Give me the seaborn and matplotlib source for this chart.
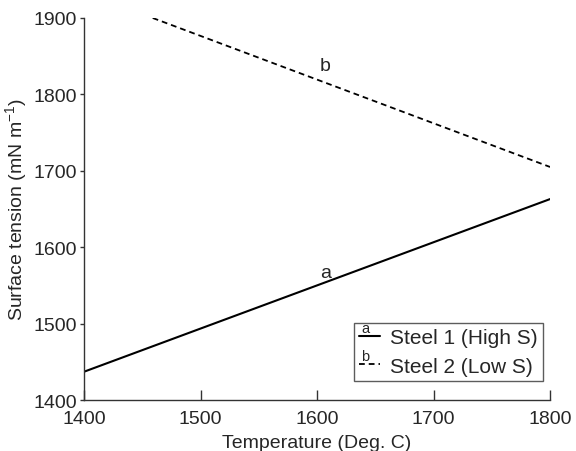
import matplotlib
matplotlib.use("Agg")
import matplotlib.pyplot as plt
from matplotlib.legend_handler import HandlerLine2D
from matplotlib.text import Text
import seaborn as sns
import pandas as pd

# values
temp_a = [1400, 1800]
tension_a = [1437, 1663]
temp_b = [1459, 1800]
tension_b = [1900, 1705]
label_a = "Steel 1 (High S)"
label_b = "Steel 2 (Low S)"
x_ticks = [1400, 1500, 1600, 1700, 1800]
y_ticks = [1400, 1500, 1600, 1700, 1800, 1900]


class LetterHandler(HandlerLine2D):
    # legend line with a small letter sitting on top of it
    def __init__(self, letter, **kw):
        super().__init__(**kw)
        self.letter = letter

    def create_artists(self, legend, orig_handle, xdescent, ydescent,
                       width, height, fontsize, trans):
        artists = super().create_artists(legend, orig_handle, xdescent, ydescent,
                                         width, height, fontsize, trans)
        t = Text(width * 0.3 - xdescent, height / 2 - ydescent + 1, self.letter,
                 ha="center", va="bottom", fontsize=fontsize * 0.7,
                 transform=trans, family=["Liberation Sans", "DejaVu Sans"])
        artists.append(t)
        return artists


sns.set_style("ticks")
plt.rcParams["font.family"] = ["Liberation Sans", "DejaVu Sans"]
plt.rcParams["mathtext.default"] = "regular"

df_a = pd.DataFrame({"Temperature": temp_a, "Tension": tension_a})
df_b = pd.DataFrame({"Temperature": temp_b, "Tension": tension_b})

fig = plt.figure(figsize=(5.76, 4.52), dpi=100)
ax = fig.add_axes([0.1458, 0.1128, 0.8092, 0.8452])

sns.lineplot(data=df_a, x="Temperature", y="Tension", color="black",
             linewidth=1.5, ax=ax, label=label_a)
sns.lineplot(data=df_b, x="Temperature", y="Tension", color="black",
             linewidth=1.3, ax=ax, label=label_b)
ax.lines[1].set_dashes((3.2, 2.2))

ax.text(1607, 1556, "a", fontsize=14, ha="center", va="bottom")
ax.text(1607, 1827, "b", fontsize=14, ha="center", va="bottom")

ax.set_xlim(1400, 1800)
ax.set_ylim(1400, 1900)
ax.set_xticks(x_ticks)
ax.set_yticks(y_ticks)
ax.tick_params(axis="x", direction="in", length=7, width=1, labelsize=14, pad=7, color="#333333")
ax.tick_params(axis="y", direction="out", length=3, width=1, labelsize=14, pad=2, color="#333333")
for lab in ax.get_yticklabels():
    lab.set_verticalalignment("center_baseline")
ax.set_xlabel("Temperature (Deg. C)", fontsize=14, labelpad=5)
ax.set_ylabel("Surface tension (mN m$^{-1}$)", fontsize=14, labelpad=3)
sns.despine(ax=ax)
for s in ["left", "bottom"]:
    ax.spines[s].set_color("#333333")
    ax.spines[s].set_linewidth(1)

handles, labels = ax.get_legend_handles_labels()
leg = ax.legend(handles, labels, loc="lower right", bbox_to_anchor=(0.985, 0.05),
                fontsize=15, frameon=True, fancybox=False, handlelength=1.0,
                handletextpad=0.5, borderpad=0.25, labelspacing=0.45, borderaxespad=0,
                handler_map={handles[0]: LetterHandler("a"), handles[1]: LetterHandler("b")})
leg.get_frame().set_edgecolor("#333333")
leg.get_frame().set_linewidth(1)

fig.savefig("out.png", dpi=100)
